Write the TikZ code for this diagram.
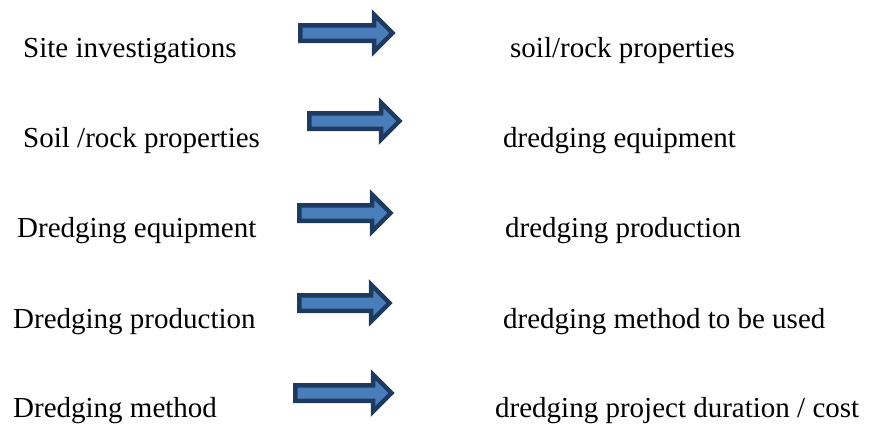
\documentclass[tikz,border=0pt]{standalone}
\usepackage{fontspec}
\setmainfont{Liberation Serif}
\definecolor{arrfill}{HTML}{4A7EBB}
\definecolor{arrline}{HTML}{1F3A5F}
\begin{document}
\begin{tikzpicture}[x=1pt,y=-1pt,
  lbl/.style={anchor=base west,inner sep=0pt,font=\fontsize{29}{34}\selectfont},
  blockarrow/.style={fill=arrfill,draw=arrline,line width=4.5pt,line join=miter}]
\useasboundingbox (0,0) rectangle (872,423);
% left texts
\node[lbl] (l1) at (23,57)  {Site investigations};
\node[lbl] (l2) at (23,147) {Soil /rock properties};
\node[lbl] (l3) at (17,237) {Dredging equipment};
\node[lbl] (l4) at (13,328) {Dredging production};
\node[lbl] (l5) at (13,417) {Dredging method};
% right texts
\node[lbl] (r1) at (510,57)  {soil/rock properties};
\node[lbl] (r2) at (503,147) {dredging equipment};
\node[lbl] (r3) at (505,237) {dredging production};
\node[lbl] (r4) at (503,328) {dredging method to be used};
\node[lbl] (r5) at (495,417) {dredging project duration / cost};
% block arrows
\foreach \xa/\xb/\yc in {298/396/33, 307/403/121, 297/394/213, 297/393/303, 293/395/393}{
  \pgfmathsetmacro{\hb}{\xb-22}
  \draw[blockarrow] (\xa+2.25,\yc-7.75) -- (\hb,\yc-7.75) -- (\hb,\yc-18.5)
     -- (\xb-3.5,\yc) -- (\hb,\yc+18.5) -- (\hb,\yc+7.75) -- (\xa+2.25,\yc+7.75) -- cycle;
}
\end{tikzpicture}
\end{document}
